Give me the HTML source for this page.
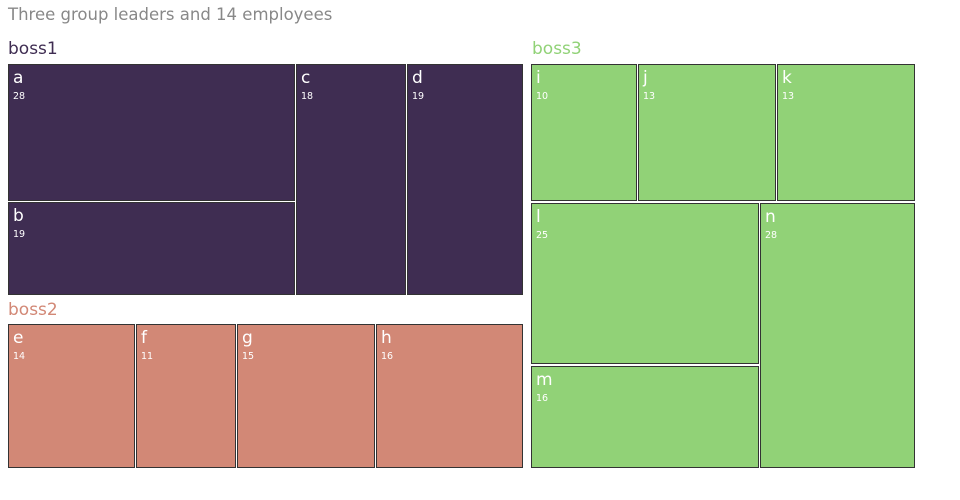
<!DOCTYPE html><html><head><style>
body{margin:0;width:960px;height:500px;background:#fff;font-family:"DejaVu Sans","Liberation Sans",sans-serif;position:relative;overflow:hidden}
.t{position:absolute;left:8px;top:5px;font-size:16.5px;color:#888}
.g{position:absolute;font-size:17px}
.r{position:absolute;box-sizing:border-box;border:1px solid #333;color:#fff}
.r b{position:absolute;left:4px;top:3px;font-weight:normal;font-size:17px}
.r i{position:absolute;left:4px;top:26px;font-style:normal;font-size:9.5px}
.p{background:#3f2d52}.o{background:#d28876}.q{background:#91d277}
</style></head><body>
<div class="t">Three group leaders and 14 employees</div>
<div class="g" style="left:8px;top:39px;color:#3f2d52">boss1</div>
<div class="g" style="left:8px;top:300px;color:#d28876">boss2</div>
<div class="g" style="left:532px;top:39px;color:#91d277">boss3</div>
<div class="r p" style="left:8px;top:64px;width:287px;height:137px"><b>a</b><i>28</i></div>
<div class="r p" style="left:8px;top:202px;width:287px;height:93px"><b>b</b><i>19</i></div>
<div class="r p" style="left:296px;top:64px;width:110px;height:231px"><b>c</b><i>18</i></div>
<div class="r p" style="left:407px;top:64px;width:116px;height:231px"><b>d</b><i>19</i></div>
<div class="r o" style="left:8px;top:324px;width:127px;height:144px"><b>e</b><i>14</i></div>
<div class="r o" style="left:136px;top:324px;width:100px;height:144px"><b>f</b><i>11</i></div>
<div class="r o" style="left:237px;top:324px;width:138px;height:144px"><b>g</b><i>15</i></div>
<div class="r o" style="left:376px;top:324px;width:147px;height:144px"><b>h</b><i>16</i></div>
<div class="r q" style="left:531px;top:64px;width:106px;height:137px"><b>i</b><i>10</i></div>
<div class="r q" style="left:638px;top:64px;width:138px;height:137px"><b>j</b><i>13</i></div>
<div class="r q" style="left:777px;top:64px;width:138px;height:137px"><b>k</b><i>13</i></div>
<div class="r q" style="left:531px;top:203px;width:228px;height:161px"><b>l</b><i>25</i></div>
<div class="r q" style="left:531px;top:366px;width:228px;height:102px"><b>m</b><i>16</i></div>
<div class="r q" style="left:760px;top:203px;width:155px;height:265px"><b>n</b><i>28</i></div>
</body></html>
